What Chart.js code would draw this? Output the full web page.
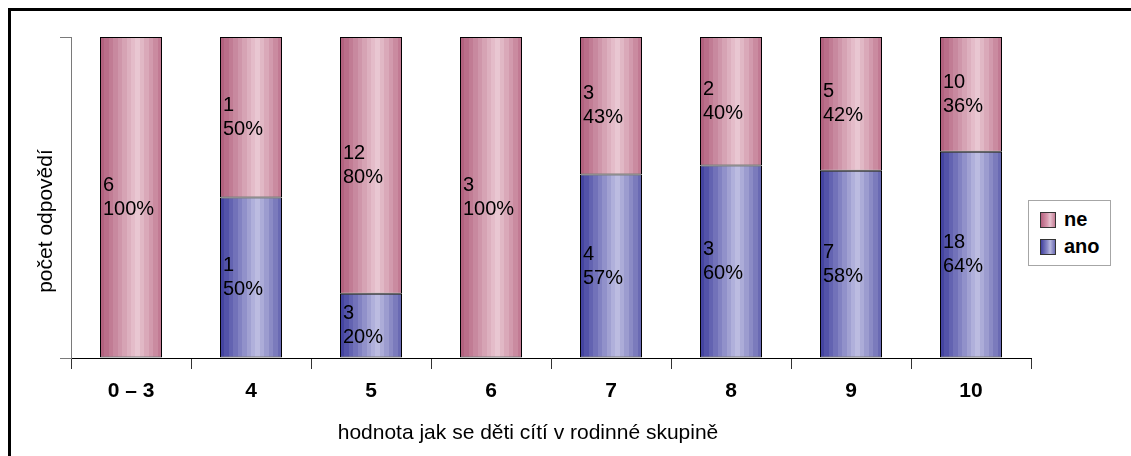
<!DOCTYPE html>
<html lang="cs">
<head>
<meta charset="utf-8">
<title>počet odpovědí</title>
<script src="https://cdn.jsdelivr.net/npm/chart.js@4/dist/chart.umd.min.js"></script>
<style>
  html, body { margin: 0; padding: 0; background: #fff; }
  #wrap { position: relative; width: 1131px; height: 456px; overflow: hidden; font-family: "Liberation Sans", Arial, sans-serif; }
  #frame { position: absolute; left: 8px; top: 8px; width: 1200px; height: 500px; border-top: 3px solid #000; border-left: 3px solid #000; }
  #chart { position: absolute; left: 0; top: 0; }
  #legend { position: absolute; left: 1028px; top: 200px; width: 81px; height: 64px; border: 1px solid #a6a6a6; background: #fff; }
  .item { position: absolute; left: 11px; font-weight: bold; font-size: 20px; line-height: 20px; }
  .item span { display: inline-block; width: 14px; height: 14px; border: 1px solid #333; vertical-align: -2px; margin-right: 8px; }
  .sw-ne { background: linear-gradient(90deg, #b4607e 0%, #d89aae 45%, #e6c2cf 65%, #c47c94 100%); }
  .sw-ano { background: linear-gradient(90deg, #40409e 0%, #8c8cc8 45%, #b8b8de 65%, #6a6ab2 100%); }
</style>
</head>
<body>
<div id="wrap">
  <div id="frame"></div>
  <canvas id="chart" width="1131" height="456"></canvas>
  <div id="legend">
    <div class="item" style="top:8px"><span class="sw-ne"></span>ne</div>
    <div class="item" style="top:35px"><span class="sw-ano"></span>ano</div>
  </div>
</div>
<script>
// answers per value of the scale
const categories = ['0 – 3', '4', '5', '6', '7', '8', '9', '10'];
const anoCounts = [0, 1, 3, 0, 4, 3, 7, 18];
const neCounts = [6, 1, 12, 3, 3, 2, 5, 10];
const yTicks = [0, 100];

const xTitle = 'hodnota jak se děti cítí v rodinné skupině';
const yTitle = 'počet odpovědí';
const FONT = '"Liberation Sans", Arial, sans-serif';
const BAR_W = 62;

function share(counts, i) {
  const total = anoCounts[i] + neCounts[i];
  return counts[i] === 0 ? null : counts[i] / total * 100;
}
const anoPct = anoCounts.map((v, i) => share(anoCounts, i));
const nePct = neCounts.map((v, i) => share(neCounts, i));

// colour profile across the bar width: dark edge, light band, darker edge
const profiles = {
  ne: [[0, [176, 92, 122]], [0.6, [234, 200, 211]], [1, [190, 116, 142]]],
  ano: [[0, [60, 60, 156]], [0.6, [190, 190, 226]], [1, [98, 98, 174]]]
};

function profileColor(stops, t) {
  for (let i = 1; i < stops.length; i++) {
    if (t <= stops[i][0]) {
      const a = stops[i - 1], b = stops[i];
      const k = (t - a[0]) / (b[0] - a[0]);
      const c = a[1].map((v, j) => Math.round(v + (b[1][j] - v) * k));
      return `rgb(${c[0]},${c[1]},${c[2]})`;
    }
  }
  const c = stops[stops.length - 1][1];
  return `rgb(${c[0]},${c[1]},${c[2]})`;
}

function barFill(name) {
  const stops = profiles[name];
  return function (ctx) {
    const chart = ctx.chart;
    const xs = chart.scales.x;
    if (!xs || ctx.dataIndex === undefined || !xs.width) return profileColor(stops, 0.5);
    const cx = xs.getPixelForValue(ctx.dataIndex);
    const g = chart.ctx.createLinearGradient(cx - BAR_W / 2, 0, cx + BAR_W / 2, 0);
    const bands = 14;
    for (let b = 0; b < bands; b++) {
      const col = profileColor(stops, (b + 0.5) / bands);
      g.addColorStop(b / bands, col);
      g.addColorStop((b + 1) / bands, col);
    }
    return g;
  };
}

// count and share written inside each segment
const segmentLabels = {
  id: 'segmentLabels',
  afterDatasetsDraw(chart) {
    const ctx = chart.ctx;
    ctx.save();
    ctx.font = '20px ' + FONT;
    ctx.fillStyle = '#000';
    ctx.textAlign = 'left';
    ctx.textBaseline = 'middle';
    chart.data.datasets.forEach((ds, di) => {
      const counts = di === 0 ? anoCounts : neCounts;
      chart.getDatasetMeta(di).data.forEach((el, i) => {
        if (ds.data[i] === null) return;
        const left = el.x - el.width / 2 + 3;
        const mid = (el.y + el.base) / 2;
        ctx.fillText(String(counts[i]), left, mid - 12);
        ctx.fillText(Math.round(ds.data[i]) + '%', left, mid + 12);
      });
    });
    ctx.restore();
  }
};

const axisTitles = {
  id: 'axisTitles',
  afterDraw(chart) {
    const ctx = chart.ctx;
    ctx.save();
    ctx.font = '21px ' + FONT;
    ctx.fillStyle = '#000';
    ctx.textAlign = 'center';
    ctx.textBaseline = 'middle';
    ctx.fillText(xTitle, 528, 433);
    ctx.translate(46, 221);
    ctx.rotate(-Math.PI / 2);
    ctx.fillText(yTitle, 0, 0);
    ctx.restore();
  }
};

const barStyle = {
  borderColor: '#000',
  borderWidth: 1,
  borderSkipped: false,
  inflateAmount: 0,
  barThickness: BAR_W
};

new Chart(document.getElementById('chart'), {
  type: 'bar',
  data: {
    labels: categories,
    datasets: [
      Object.assign({ label: 'ano', data: anoPct, backgroundColor: barFill('ano') }, barStyle),
      Object.assign({ label: 'ne', data: nePct, backgroundColor: barFill('ne') }, barStyle)
    ]
  },
  options: {
    responsive: false,
    animation: false,
    layout: { padding: { left: 60, right: 100, top: 37, bottom: 38 } },
    plugins: {
      legend: { display: false },
      tooltip: { enabled: false }
    },
    scales: {
      x: {
        stacked: true,
        offset: true,
        border: { color: '#000', width: 1 },
        grid: {
          offset: true,
          drawOnChartArea: false,
          drawTicks: true,
          tickLength: 11,
          color: '#333'
        },
        ticks: {
          color: '#000',
          padding: 10,
          font: { family: FONT, size: 21, weight: 'bold' }
        },
        afterFit: s => { s.height = 60; }
      },
      y: {
        stacked: true,
        min: yTicks[0],
        max: yTicks[yTicks.length - 1],
        border: { color: '#7a7a7a', width: 1 },
        grid: {
          drawOnChartArea: false,
          drawTicks: true,
          tickLength: 11,
          color: '#7a7a7a'
        },
        afterBuildTicks: s => { s.ticks = yTicks.map(v => ({ value: v })); },
        ticks: { callback: () => '', padding: 0 },
        afterFit: s => { s.width = 11; }
      }
    }
  },
  plugins: [segmentLabels, axisTitles]
});
</script>
</body>
</html>
